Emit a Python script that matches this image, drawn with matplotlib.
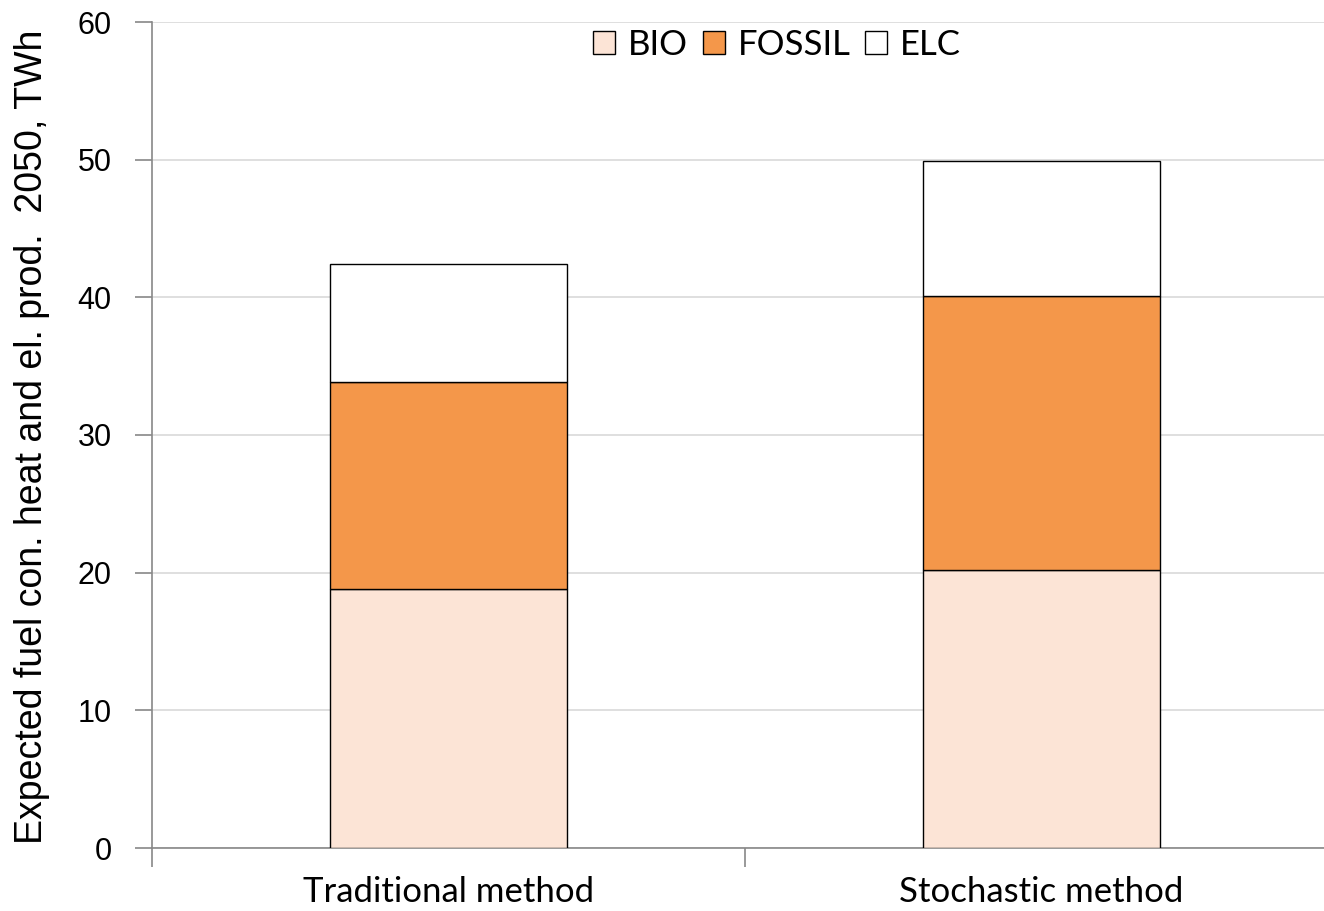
import matplotlib
matplotlib.use("Agg")
import matplotlib.pyplot as plt
from matplotlib.patches import Patch

categories = ["Traditional method", "Stochastic method"]
series_names = ["BIO", "FOSSIL", "ELC"]
bio = [18.8, 20.2]
fossil = [15.05, 19.9]
elc = [8.6, 9.8]
colors = ["#FCE4D6", "#F4974A", "#FFFFFF"]
yticks = [0, 10, 20, 30, 40, 50, 60]
ylabel = "Expected fuel con. heat and el. prod.  2050, TWh"

W, H = 1324, 911
fig = plt.figure(figsize=(W / 100, H / 100), dpi=100)
ax = fig.add_axes([152 / W, (H - 848) / H, (W - 152) / W, 826 / H])

x = list(range(len(categories)))
width = 0.40
bottom = [0.0] * len(categories)
for name, vals, c in zip(series_names, [bio, fossil, elc], colors):
    ax.bar(x, vals, width, bottom=bottom, color=c, edgecolor="black",
           linewidth=1.0, label=name, zorder=3)
    bottom = [b + v for b, v in zip(bottom, vals)]

ax.set_yticks(yticks)
ax.set_yticklabels([str(t) for t in yticks], fontsize=22, family="Liberation Sans")
ax.yaxis.grid(True, color="#D9D9D9", linewidth=1.2, zorder=0)
ax.set_axisbelow(True)

ax.set_xticks(x)
ax.set_xticklabels(categories, fontsize=25, family="Lato")
ax.tick_params(axis="x", length=0, pad=20)
ax.set_xticks([-0.5, 0.5], minor=True)
ax.tick_params(axis="x", which="minor", length=14, color="#888888", width=1.2)
ax.tick_params(axis="y", length=12, color="#888888", width=1.2, pad=17)

ax.set_ylim(0, 60)
ax.set_xlim(-0.5, (W - 152) / 593 - 0.5)

for s in ["top", "right"]:
    ax.spines[s].set_visible(False)
for s in ["left", "bottom"]:
    ax.spines[s].set_color("#888888")
    ax.spines[s].set_linewidth(1.2)

ax.set_ylabel(ylabel, fontsize=27, family="Liberation Sans")
ax.yaxis.set_label_coords((50 - 152) / (W - 152), (848 - 437) / 826)

handles = [Patch(facecolor=c, edgecolor="black", linewidth=1.0) for c in colors]
ax.legend(handles, series_names, loc="center",
          bbox_to_anchor=((777 - 152) / (W - 152), (848 - 45) / 826),
          ncol=3, frameon=False, prop={"family": "Lato", "size": 25},
          handlelength=0.63, handleheight=0.63, handletextpad=0.37, columnspacing=0.43)

fig.savefig("out.png", dpi=100, facecolor="white")
